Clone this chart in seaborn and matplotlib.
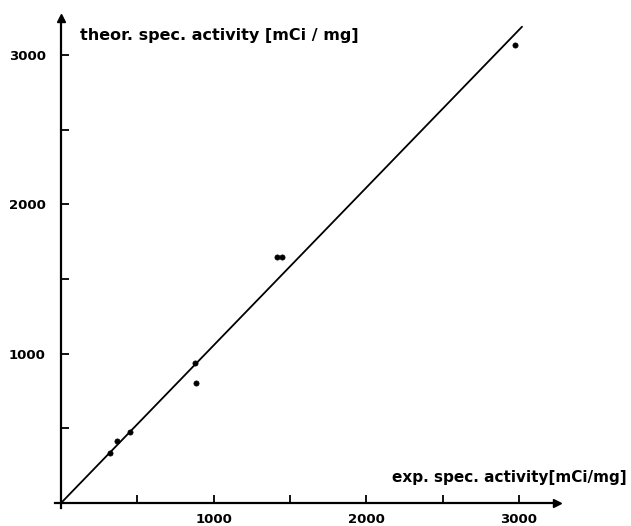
import matplotlib
matplotlib.use("Agg")
import matplotlib.pyplot as plt
import seaborn as sns
import pandas as pd

# data
exp_activity = [320, 366, 451, 876, 882, 1418, 1446, 2974]
theor_activity = [333, 413, 473, 940, 807, 1645, 1645, 3067]
line_x = [0, 3020]
line_y = [0, 3190]
major_ticks = [1000, 2000, 3000]
minor_ticks = [500, 1500, 2500]
x_label = "exp. spec. activity[mCi/mg]"
y_label = "theor. spec. activity [mCi / mg]"

sns.set_theme(style="white")
plt.rcParams['font.family'] = ['DejaVu Sans']

fig = plt.figure(figsize=(6.31, 5.26), dpi=100)
ax = fig.add_axes([0, 0, 1, 1])
ax.set_xlim(-400, 3734)
ax.set_ylim(-154, 3369)

df = pd.DataFrame({"x": exp_activity, "y": theor_activity})
ldf = pd.DataFrame({"x": line_x, "y": line_y})
sns.lineplot(data=ldf, x="x", y="y", ax=ax, color="black", linewidth=1.3)
sns.scatterplot(data=df, x="x", y="y", ax=ax, color="black", s=14, edgecolor="black", linewidth=0.5)

for side in ["top", "right"]:
    ax.spines[side].set_visible(False)
ax.spines["left"].set_position(("data", 0))
ax.spines["bottom"].set_position(("data", 0))
ax.spines["left"].set_bounds(-35, 3240)
ax.spines["bottom"].set_bounds(-40, 3230)
for side in ["left", "bottom"]:
    ax.spines[side].set_linewidth(1.6)
    ax.spines[side].set_color("black")
# arrow heads
ax.plot([0], [3250], marker="^", color="black", markersize=6, clip_on=False)
ax.plot([3250], [0], marker=">", color="black", markersize=6, clip_on=False)

ax.set_xticks(major_ticks)
ax.set_yticks(major_ticks)
ax.set_xticks(minor_ticks, minor=True)
ax.set_yticks(minor_ticks, minor=True)
ax.tick_params(axis="both", which="both", direction="in", length=6, width=1.3,
               color="black", labelsize=9.5, labelcolor="black",
               bottom=True, left=True, top=False, right=False)
ax.tick_params(axis="x", which="major", pad=7)
ax.tick_params(axis="y", which="major", pad=11)
for lab in ax.get_xticklabels() + ax.get_yticklabels():
    lab.set_fontweight("bold")
ax.set_xlabel("")
ax.set_ylabel("")

ax.text(125, 3130, y_label, fontsize=11.5, fontweight="bold", ha="left", va="center", color="black")
ax.text(2170, 173, x_label, fontsize=11, fontweight="bold", ha="left", va="center", color="black")

fig.savefig("out.png", dpi=100)
